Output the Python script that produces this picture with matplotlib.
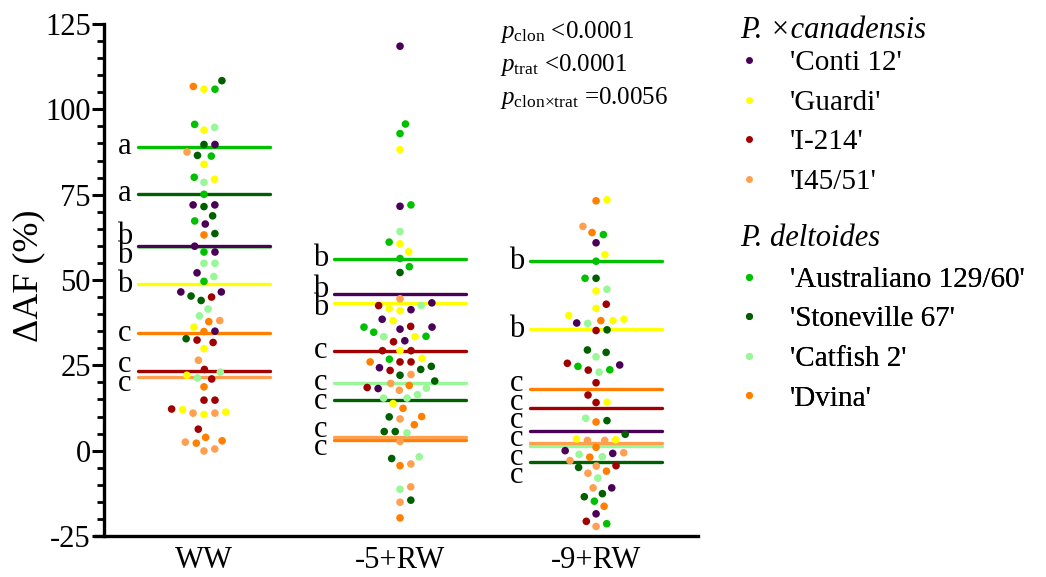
import numpy as np
import matplotlib
matplotlib.use("Agg")
import matplotlib.pyplot as plt
from matplotlib.lines import Line2D

plt.rcParams['font.family'] = ['Liberation Serif', 'DejaVu Serif']
plt.rcParams['mathtext.fontset'] = 'custom'
plt.rcParams['mathtext.rm'] = 'Liberation Serif'
plt.rcParams['mathtext.it'] = 'Liberation Serif:italic'
plt.rcParams['axes.unicode_minus'] = False

treatments = ['WW', '-5+RW', '-9+RW']
clones = ["'Conti 12'", "'Guardi'", "'I-214'", "'I45/51'",
          "'Australiano 129/60'", "'Stoneville 67'", "'Catfish 2'", "'Dvina'"]
colors = ['#4B0058', '#FFFF00', '#A00000', '#FFA050',
          '#00C000', '#006000', '#98F898', '#FF8000']
species = ['P. ×canadensis', 'P. deltoides']

# individual values per clone: [WW, -5+RW, -9+RW]
conti12 = [[89.7, 72.0, 72.0, 66.4, 59.9, 58.2, 52.1, 46.5, 46.5, 35.0],
           [118.5, 71.6, 43.3, 41.3, 38.5, 36.2, 35.6, 32.2, 24.3, 18.2],
           [60.9, 37.4, 25.1, 0.0, -0.8, -10.9, -18.5]]
guardi = [[105.9, 93.9, 83.9, 79.5, 36.2, 29.9, 22.1, 12.0, 10.6, 11.3],
          [88.2, 60.6, 58.3, 41.0, 41.6, 38.1, 33.4, 29.3, 27.0, 13.8],
          [73.5, 57.4, 46.8, 41.7, 39.6, 38.5, 38.1, 14.2, 3.4, 3.2]]
i214 = [[45.0, 32.4, 31.7, 23.8, 21.0, 14.8, 14.8, 12.2, 6.3],
        [42.5, 36.4, 31.9, 29.3, 29.3, 26.0, 26.0, 23.5, 18.5],
        [42.9, 35.2, 25.6, 23.6, 19.9, 16.3, 14.1, -4.4, -20.7]]
i4551 = [[87.5, 38.1, 26.5, 11.0, 11.0, 2.5, 0.5, -0.1],
         [44.5, 22.3, 19.7, 17.7, 9.3, 2.7, -3.9, -10.6, -15.1],
         [65.7, 3.0, 3.0, -0.6, -2.9, -4.5, -6.6, -10.9, -22.2]]
australiano = [[105.9, 95.6, 86.3, 80.1, 75.1, 67.3, 58.2, 49.6],
               [95.7, 92.9, 72.0, 61.1, 56.3, 53.9, 34.7, 36.2, 33.5, 26.8],
               [63.3, 55.5, 50.5, 24.7, 23.7, -14.8, -21.4]]
stoneville = [[108.4, 89.7, 86.5, 71.5, 68.8, 63.6, 45.3, 44.0, 32.8],
              [52.2, 24.7, 23.8, 22.1, 20.4, 9.9, 5.6, 5.6, -2.3, -14.5],
              [50.5, 35.4, 29.5, 28.8, 8.8, 4.8, -4.9, -12.6, -13.5]]
catfish = [[94.7, 78.6, 54.9, 54.9, 51.0, 41.5, 39.5, 23.0, 21.3],
           [64.2, 42.5, 33.4, 18.3, 16.4, 15.4, 15.4, 5.2, -1.8, -11.3],
           [47.3, 37.3, 27.5, 23.0, 9.5, -1.1, -1.8, -8.0]]
dvina = [[106.7, 63.2, 37.8, 34.9, 18.7, 3.9, 2.9, 2.2],
         [26.0, 19.1, 12.4, 10.0, 7.6, -4.4, -19.7],
         [73.2, 63.9, 38.1, 8.4, 1.0, -1.9, -6.0, -16.3]]
clone_data = [conti12, guardi, i214, i4551, australiano, stoneville, catfish, dvina]

# mean lines (clone order as above)
mean_ww = [60.0, 48.7, 23.3, 21.6, 89.1, 75.2, 59.8, 34.4]
mean_m5 = [45.9, 43.3, 29.3, 3.9, 56.2, 14.7, 19.7, 3.2]
mean_m9 = [5.9, 35.6, 12.5, 2.3, 55.5, -3.2, 1.4, 18.0]
means = [mean_ww, mean_m5, mean_m9]

letters_ww = ['b', 'b', 'c', 'c', 'a', 'a', 'b', 'c']
letters_m5 = ['b', 'b', 'c', 'c', 'b', 'c', 'c', 'c']
letters_m9 = ['c', 'b', 'c', 'c', 'b', 'c', 'c', 'c']
letters = [letters_ww, letters_m5, letters_m9]

p_texts = [r"$p_{\mathrm{clon}}$ <0.0001",
           r"$p_{\mathrm{trat}}$ <0.0001",
           r"$p_{\mathrm{clon×trat}}$ =0.0056"]

W, H = 1046, 577
fig = plt.figure(figsize=(W / 100, H / 100), dpi=100)
ax = fig.add_axes([104 / W, 1 - 536 / H, (698 - 104) / W, (536 - 24) / H])
ax.set_xlim(-0.51, 2.52)
ax.set_ylim(-25, 125)

px_x = 594 / (2.52 + 0.51)
px_y = 512 / 150.0


def swarm(vals_px, d):
    order = np.argsort(vals_px)
    placed = []
    xs = np.zeros(len(vals_px))
    for i in order:
        y = vals_px[i]
        near = [(a, b) for a, b in placed if abs(b - y) < d]
        cands = [0.0]
        for a, b in near:
            dx = np.sqrt(d * d - (b - y) ** 2)
            cands += [a + dx, a - dx]
        cands.sort(key=abs)
        for c in cands:
            if all((c - a) ** 2 + (y - b) ** 2 >= d * d - 1e-6 for a, b in near):
                xs[i] = c
                break
        placed.append((xs[i], y))
    return xs


def spread(vals, gap):
    idx = list(np.argsort(vals)[::-1])
    pos = {i: vals[i] for i in idx}
    clusters = [[i] for i in idx]
    changed = True
    while changed:
        changed = False
        new = [clusters[0]]
        for cl in clusters[1:]:
            prev = new[-1]
            if pos[prev[-1]] - pos[cl[0]] < gap - 1e-9:
                merged = prev + cl
                m = np.mean([vals[i] for i in merged])
                n = len(merged)
                for k, i in enumerate(merged):
                    pos[i] = m + (n - 1) / 2 * gap - k * gap
                new[-1] = merged
                changed = True
            else:
                new.append(cl)
        clusters = new
    return pos


half = 0.335
for g in range(3):
    for ci in reversed(range(len(clones))):
        ax.plot([g - half, g + half], [means[g][ci]] * 2, color=colors[ci],
                lw=2.4, solid_capstyle='round', zorder=2)
    pos = spread(means[g], 5.4)
    for ci in range(len(clones)):
        ax.text(g - 0.405, pos[ci], letters[g][ci], ha='center', va='center',
                fontsize=22, zorder=4)
    vals = []
    cols = []
    for ci, cd in enumerate(clone_data):
        vals += cd[g]
        cols += [colors[ci]] * len(cd[g])
    vals = np.array(vals)
    xo = swarm(vals * px_y, 11.0) / px_x
    ax.scatter(g + xo, vals, s=30, c=cols, linewidths=0, zorder=3)

for s in ['top', 'right']:
    ax.spines[s].set_visible(False)
for s in ['left', 'bottom']:
    ax.spines[s].set_linewidth(2.4)
ax.spines['bottom'].set_bounds(-0.555, 2.52)
ax.set_yticks(np.arange(-25, 126, 25))
ax.set_yticks(np.arange(-25, 126, 5), minor=True)
ax.tick_params(axis='y', which='major', length=8.5, width=2.2, labelsize=22, pad=1)
ax.tick_params(axis='y', which='minor', length=5, width=2.0)
ax.set_xticks(range(3))
ax.set_xticklabels(treatments)
ax.tick_params(axis='x', length=0, labelsize=22, pad=7)
ax.set_ylabel('ΔAF (%)', fontsize=26)
ax.yaxis.set_label_coords((45 - 104) / 594, (536 - 276) / 512)

for k, t in enumerate(p_texts):
    fig.text(500 / W, 1 - (32 + 33 * k) / H, t, fontsize=18, va='center', ha='left')

# legend headers and entries
for k, (sp, yc) in enumerate(zip(species, [30, 238])):
    fig.text(740 / W, 1 - yc / H, sp, fontsize=22, style='italic', va='center', ha='left')


def make_handles(idx):
    return [Line2D([], [], ls='none', marker='o', ms=5, mec='none', mfc=colors[i])
            for i in idx]

legs = []
for k, (idx, yc) in enumerate(zip([range(0, 4), range(4, 8)], [122.5, 339])):
    leg = ax.legend(make_handles(idx), [clones[i] for i in idx], loc='center left',
                    bbox_to_anchor=(734 / W, 1 - yc / H), bbox_transform=fig.transFigure,
                    frameon=False, fontsize=21, handlelength=1.0,
                    handletextpad=0.92, labelspacing=0.45, borderpad=0, borderaxespad=0)
    ax.add_artist(leg)

fig.savefig('out.png', dpi=100)
